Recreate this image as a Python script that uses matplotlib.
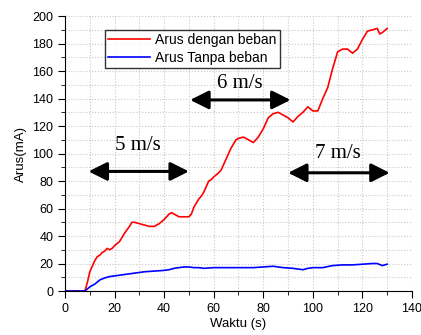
import matplotlib
matplotlib.use("Agg")
import matplotlib.pyplot as plt
from matplotlib.ticker import MultipleLocator

# current with load (red)
t_load = [0, 8, 9, 10, 11, 12, 13, 14, 15, 16, 17, 18, 19, 20, 22, 24, 26, 27, 28,
          30, 32, 34, 36, 38, 40, 42, 43, 44, 46, 48, 50, 51, 52, 53, 54, 55, 56,
          57, 58, 59, 60, 62, 63, 65, 67, 69, 70, 72, 74, 76, 78, 80, 82, 84, 86,
          88, 90, 92, 94, 96, 98, 100, 102, 104, 106, 108, 110, 112, 114, 116, 118,
          120, 122, 124, 126, 127, 128, 130]
i_load = [0, 0, 6, 14, 18, 22, 25, 26, 28, 29, 31, 30, 31, 33, 36, 42, 47, 50, 50,
          49, 48, 47, 47, 49, 52, 56, 57, 56, 54, 54, 54, 56, 61, 64, 67, 69, 72,
          76, 80, 81, 83, 86, 88, 96, 104, 110, 111, 112, 110, 108, 112, 118, 126,
          129, 130, 128, 126, 123, 127, 130, 134, 131, 131, 140, 148, 162, 174, 176,
          176, 173, 176, 183, 189, 190, 191, 187, 188, 191]

# current without load (blue)
t_noload = [0, 8, 9, 10, 12, 14, 16, 18, 20, 24, 28, 32, 36, 40, 42, 44, 46, 48, 50,
            52, 54, 56, 60, 64, 68, 72, 76, 80, 84, 88, 92, 96, 98, 100, 104, 108,
            112, 116, 120, 124, 126, 128, 130]
i_noload = [0, 0, 1.5, 3, 5, 8, 9.5, 10.5, 11, 12, 13, 14, 14.5, 15, 15.5, 16.5, 17,
            17.5, 17.5, 17, 17, 16.5, 17, 17, 17, 17, 17, 17.5, 18, 17, 16.5, 15.5,
            16.5, 17, 17, 18.5, 19, 19, 19.5, 20, 20, 18.5, 19.5]

# wind speed annotations
speed_labels = ["5 m/s", "6 m/s", "7 m/s"]
speed_start = [9.5, 50.5, 90]
speed_end = [50, 91, 131]
speed_arrow_y = [87, 139, 86]
speed_text_x = [29.5, 70.5, 110]
speed_text_y = [106, 151, 100]

plt.rcParams["font.family"] = ["Liberation Sans", "DejaVu Sans"]

fig = plt.figure(figsize=(4.21, 3.35), dpi=100)
ax = fig.add_axes([0.1544, 0.1313, 0.8242, 0.8207])

ax.plot(t_load, i_load, color="#ff0000", lw=1.2, label="Arus dengan beban")
ax.plot(t_noload, i_noload, color="#0000ff", lw=1.2, label="Arus Tanpa beban")

for lab, x0, x1, ya, xt, yt in zip(speed_labels, speed_start, speed_end,
                                   speed_arrow_y, speed_text_x, speed_text_y):
    ax.annotate("", xy=(x1, ya), xytext=(x0, ya),
                arrowprops=dict(arrowstyle="<|-|>", color="black", lw=2.2,
                                mutation_scale=28, shrinkA=0, shrinkB=0))
    ax.text(xt, yt, lab, ha="center", va="center", fontsize=15,
            family="Liberation Serif")

ax.set_xlim(0, 140)
ax.set_ylim(0, 200)
ax.xaxis.set_major_locator(MultipleLocator(20))
ax.xaxis.set_minor_locator(MultipleLocator(10))
ax.yaxis.set_major_locator(MultipleLocator(20))
ax.yaxis.set_minor_locator(MultipleLocator(10))
ax.grid(True, which="both", color="#c8c8c8", ls=":", lw=0.8)
ax.set_axisbelow(True)
ax.tick_params(which="major", direction="out", length=5, labelsize=9)
ax.tick_params(which="minor", direction="out", length=3)
ax.spines["top"].set_visible(False)
ax.spines["right"].set_visible(False)

ax.set_xlabel("Waktu (s)", fontsize=9.5, labelpad=2)
ax.set_ylabel("Arus(mA)", fontsize=9.5, labelpad=4)

leg = ax.legend(loc="upper left", bbox_to_anchor=(0.115, 0.95), fontsize=10,
                frameon=True, fancybox=False, edgecolor="black",
                borderpad=0.25, labelspacing=0.25, handlelength=3.0,
                handletextpad=0.35, borderaxespad=0)
leg.get_frame().set_linewidth(1.0)

fig.savefig("out.png", dpi=100)
